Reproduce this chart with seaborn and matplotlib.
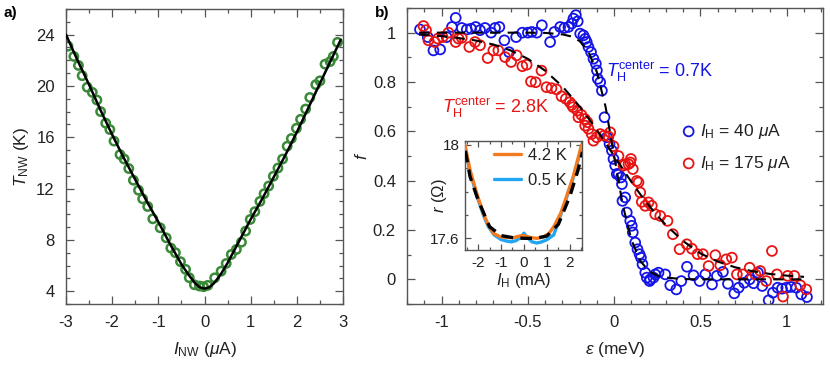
import matplotlib
matplotlib.use("Agg")
import matplotlib.pyplot as plt
from matplotlib.ticker import MultipleLocator
import seaborn as sns

# panel a: nanowire temperature vs current
a_I = [-2.957, -2.83, -2.73, -2.65, -2.54, -2.43, -2.33, -2.25, -2.14, -2.05, -1.96, -1.83,
       -1.74, -1.64, -1.54, -1.43, -1.34, -1.23, -1.12, -0.96, -0.83, -0.73, -0.63, -0.52,
       -0.41, -0.33, -0.22, -0.11, -0.02, 0.07, 0.22, 0.36, 0.47, 0.58, 0.69, 0.80, 0.89,
       0.99, 1.09, 1.20, 1.29, 1.39, 1.49, 1.59, 1.69, 1.79, 1.88, 1.99, 2.08, 2.19, 2.28,
       2.41, 2.50, 2.61, 2.72, 2.79, 2.88]
a_T = [23.1, 22.3, 21.6, 20.8, 19.9, 19.5, 18.9, 18.0, 17.1, 16.6, 15.7, 14.65,
       14.3, 13.56, 12.65, 11.87, 11.2, 10.6, 9.64, 8.94, 8.16, 7.36, 7.0, 6.3,
       5.7, 5.05, 4.5, 4.4, 4.35, 4.45, 5.04, 5.56, 6.16, 6.86, 7.25, 7.82, 8.68,
       9.59, 10.2, 11.0, 11.6, 12.2, 12.96, 13.6, 14.3, 15.3, 15.9, 16.7, 17.4, 18.2, 19.1,
       20.1, 20.4, 21.7, 21.9, 22.3, 23.4]
fit_a_I = [-3, -2.75, -2.5, -2.25, -2, -1.75, -1.5, -1.25, -1, -0.75, -0.5, -0.35, -0.2, -0.1,
           0, 0.1, 0.2, 0.35, 0.5, 0.75, 1, 1.25, 1.5, 1.75, 2, 2.25, 2.5, 2.75, 2.95]
fit_a_T = [24.0, 22.0, 20.1, 18.1, 16.2, 14.4, 12.7, 11.0, 9.4, 7.7, 6.1, 5.3, 4.6, 4.3,
           4.2, 4.3, 4.6, 5.3, 6.2, 7.9, 9.6, 11.2, 12.9, 14.6, 16.4, 18.3, 20.2, 22.1, 23.6]

# panel b: distribution function, I_H = 40 uA (blue)
b_eps = [-1.125, -1.08, -1.047, -1.008, -0.97, -0.94, -0.918, -0.883, -0.854, -0.829, -0.802,
         -0.777, -0.748, -0.713, -0.69, -0.665, -0.636, -0.609, -0.568, -0.532, -0.50, -0.477,
         -0.448, -0.419, -0.371, -0.346, -0.313, -0.288, -0.265, -0.246, -0.236, -0.222, -0.211,
         -0.197, -0.178, -0.168, -0.159, -0.149, -0.134, -0.120, -0.106, -0.100, -0.095, -0.081,
         -0.071, -0.056, -0.042, -0.027, -0.013, -0.004, 0.006, 0.015, 0.025, 0.039, 0.045,
         0.048, 0.064, 0.073, 0.093, 0.102, 0.108, 0.122, 0.135, 0.147, 0.155, 0.164, 0.180,
         0.189, 0.205, 0.209, 0.228, 0.238, 0.257, 0.296, 0.325, 0.36, 0.389, 0.422, 0.46,
         0.495, 0.528, 0.567, 0.595, 0.63, 0.659, 0.696, 0.721, 0.753, 0.785, 0.808, 0.833,
         0.858, 0.895, 0.92, 0.947, 0.972, 0.997, 1.024, 1.055, 1.084, 1.117]
b_f = [1.013, 0.982, 0.928, 0.932, 0.982, 1.023, 1.06, 1.019, 1.013, 1.016, 1.023,
       1.01, 1.019, 1.0, 1.019, 1.023, 0.969, 0.921, 0.982, 1.0, 1.0, 1.003,
       1.0, 1.03, 0.962, 1.003, 1.023, 1.019, 1.023, 1.037, 1.057, 1.071, 1.046,
       0.996, 0.989, 0.975, 0.962, 0.942, 0.921, 0.894, 0.874, 0.847, 0.813, 0.799,
       0.765, 0.657, 0.576, 0.549, 0.522, 0.488, 0.461, 0.427, 0.427, 0.413, 0.386,
       0.318, 0.332, 0.271, 0.237, 0.217, 0.19, 0.149, 0.122, 0.102, 0.088, 0.061, 0.027,
       0.007, -0.007, 0.0, 0.007, 0.02, 0.027, 0.02, -0.024, -0.041, -0.007, 0.051, 0.016,
       -0.007, 0.02, -0.021, 0.014, 0.03, -0.018, -0.057, -0.034, -0.014, 0.0, -0.016, 0.027,
       -0.027, -0.085, -0.054, -0.034, -0.038, -0.034, -0.031, -0.034, -0.061, -0.072]

# I_H = 175 uA (red)
r_eps = [-1.105, -1.09, -1.076, -1.04, -1.021, -0.994, -0.96, -0.918, -0.902, -0.883, -0.839,
         -0.806, -0.777, -0.733, -0.70, -0.671, -0.632, -0.597, -0.565, -0.532, -0.507, -0.482,
         -0.455, -0.421, -0.392, -0.363, -0.334, -0.305, -0.28, -0.257, -0.245, -0.238, -0.213,
         -0.207, -0.19, -0.17, -0.168, -0.155, -0.149, -0.13, -0.12, -0.101, -0.081, -0.058,
         -0.033, -0.023, -0.004, 0.025, 0.054, 0.064, 0.083, 0.093, 0.097, 0.108, 0.131, 0.141,
         0.151, 0.16, 0.18, 0.199, 0.218, 0.238, 0.267, 0.309, 0.34, 0.379, 0.421, 0.45, 0.483,
         0.514, 0.547, 0.586, 0.615, 0.649, 0.682, 0.711, 0.746, 0.785, 0.818, 0.846, 0.881,
         0.914, 0.943, 0.978, 1.005, 1.044, 1.078, 1.113]
r_f = [1.027, 1.01, 0.969, 0.962, 0.976, 0.982, 1.0, 0.962, 0.976, 0.979, 0.942,
       0.962, 0.949, 0.897, 0.928, 0.928, 0.901, 0.881, 0.908, 0.864, 0.87, 0.802,
       0.799, 0.846, 0.779, 0.775, 0.77, 0.742, 0.732, 0.718, 0.707, 0.698, 0.684,
       0.657, 0.667, 0.65, 0.623, 0.637, 0.61, 0.589, 0.562, 0.576, 0.589, 0.583,
       0.579, 0.596, 0.54, 0.5, 0.461, 0.467, 0.467, 0.474, 0.488, 0.447, 0.399, 0.393,
       0.352, 0.314, 0.298, 0.312, 0.298, 0.264, 0.257, 0.237, 0.183, 0.122, 0.142, 0.124, 0.102,
       0.102, 0.054, 0.098, 0.057, 0.081, 0.088, 0.02, 0.02, 0.047, 0.02, 0.034, -0.007,
       0.115, 0.02, -0.07, 0.014, 0.014, -0.024, -0.041]

fit_eps = [-1.13, -1.0, -0.9, -0.8, -0.7, -0.6, -0.5, -0.4, -0.3, -0.25, -0.2, -0.15, -0.1,
           -0.05, 0, 0.05, 0.1, 0.15, 0.2, 0.25, 0.3, 0.4, 0.5, 0.6, 0.7, 0.8, 0.9, 1.0, 1.1]
fit_blue = [1.0, 1.0, 1.0, 1.0, 1.0, 1.0, 1.0, 0.999, 0.993, 0.985, 0.966, 0.924, 0.84,
            0.70, 0.5, 0.30, 0.16, 0.076, 0.034, 0.015, 0.007, 0.001, 0.0, 0.0, 0.0, 0.0, 0.0, 0.0, 0.0]
fit_red = [0.992, 0.986, 0.978, 0.968, 0.952, 0.928, 0.894, 0.846, 0.782, 0.742, 0.70, 0.654, 0.605,
           0.553, 0.5, 0.447, 0.395, 0.346, 0.30, 0.258, 0.22, 0.155, 0.105, 0.072, 0.049, 0.033,
           0.022, 0.015, 0.01]

# inset: r vs I_H
ins_I = [-2.57, -2.35, -2.06, -1.77, -1.55, -1.33, -1.04, -0.75, -0.46, -0.17, 0.0, 0.29,
         0.58, 0.87, 1.09, 1.30, 1.60, 1.86, 2.15, 2.51]
r_42K = [18.0, 17.893, 17.793, 17.707, 17.657, 17.621, 17.607, 17.604, 17.603, 17.61, 17.612,
         17.603, 17.6, 17.607, 17.621, 17.65, 17.707, 17.78, 17.865, 18.0]
ins_I_cold = [-2.57, -2.35, -2.06, -1.77, -1.55, -1.3, -1.0, -0.75, -0.55, -0.35, -0.15, 0.0,
              0.15, 0.35, 0.55, 0.75, 1.0, 1.3, 1.6, 1.86, 2.15, 2.51]
r_05K = [17.99, 17.885, 17.785, 17.7, 17.65, 17.615, 17.595, 17.588, 17.585, 17.59, 17.603, 17.622,
         17.603, 17.585, 17.58, 17.584, 17.594, 17.615, 17.7, 17.775, 17.86, 17.99]
ins_fit_I = [-2.55, -2.35, -2.0, -1.5, -1.0, -0.5, 0.0, 0.5, 1.0, 1.5, 2.0, 2.35, 2.55]
ins_fit_r = [17.975, 17.865, 17.765, 17.65, 17.612, 17.603, 17.6, 17.6, 17.61, 17.66, 17.78,
             17.89, 17.97]

sns.set_style("ticks")
plt.rcParams['font.family'] = ['Liberation Sans', 'DejaVu Sans']
plt.rcParams['mathtext.fontset'] = 'custom'
plt.rcParams['mathtext.rm'] = 'Liberation Sans'
plt.rcParams['mathtext.it'] = 'Liberation Sans:italic'
plt.rcParams['mathtext.bf'] = 'Liberation Sans:bold'
plt.rcParams['axes.unicode_minus'] = False
plt.rcParams['axes.edgecolor'] = '#555555'
plt.rcParams['xtick.color'] = '#555555'
plt.rcParams['ytick.color'] = '#555555'
plt.rcParams['xtick.labelcolor'] = '#222222'
plt.rcParams['ytick.labelcolor'] = '#222222'
plt.rcParams['text.color'] = '#222222'
plt.rcParams['axes.labelcolor'] = '#222222'

GREEN = '#3a8a3a'
BLUE = '#1414e6'
RED = '#e81414'
ORANGE = '#f47a20'
LBLUE = '#22a6f2'


def style_ticks(ax, size=12, pad=8):
    ax.tick_params(which='both', direction='in', top=True, right=True, labelsize=size,
                   width=0.9)
    ax.tick_params(which='major', length=6, pad=pad)
    ax.tick_params(which='minor', length=3)
    for s in ax.spines.values():
        s.set_linewidth(1.0)


fig = plt.figure(figsize=(8.3, 3.7), dpi=100)

# ---- panel a
ax1 = fig.add_axes([0.0795, 0.1784, 0.3338, 0.7973])
sns.lineplot(x=fit_a_I, y=fit_a_T, ax=ax1, color='black', lw=1.8, sort=False, zorder=3)
sns.scatterplot(x=a_I, y=a_T, ax=ax1, marker='o', s=36, facecolor='none',
                edgecolor=GREEN, linewidth=1.8, zorder=2)
ax1.set_xlim(-3, 3)
ax1.set_ylim(3, 26)
ax1.xaxis.set_major_locator(MultipleLocator(1))
ax1.xaxis.set_minor_locator(MultipleLocator(0.5))
ax1.yaxis.set_major_locator(MultipleLocator(4))
ax1.yaxis.set_minor_locator(MultipleLocator(1))
style_ticks(ax1)
ax1.set_xlabel(r'$I_{\rm NW}$ ($\mu$A)', fontsize=12.5, labelpad=7)
ax1.set_ylabel(r'$T_{\rm NW}$ (K)', fontsize=12.5, labelpad=4)
fig.text(0.004, 0.955, 'a)', fontsize=11, fontweight='bold', color='black')

# ---- panel b
ax2 = fig.add_axes([0.4904, 0.1784, 0.5012, 0.8])
sns.scatterplot(x=b_eps, y=b_f, ax=ax2, marker='o', s=50, facecolor='none',
                edgecolor=BLUE, linewidth=1.3, label=r'$I_{\rm H}$ = 40 $\mu$A', zorder=2)
sns.scatterplot(x=r_eps, y=r_f, ax=ax2, marker='o', s=50, facecolor='none',
                edgecolor=RED, linewidth=1.3, label=r'$I_{\rm H}$ = 175 $\mu$A', zorder=2)
sns.lineplot(x=fit_eps, y=fit_blue, ax=ax2, color='black', lw=1.5, sort=False, zorder=3)
sns.lineplot(x=fit_eps, y=fit_red, ax=ax2, color='black', lw=1.5, sort=False, zorder=3)
ax2.lines[0].set_dashes((5, 3.5))
ax2.lines[1].set_dashes((5, 3.5))
ax2.set_xlim(-1.2, 1.21)
ax2.set_ylim(-0.1, 1.1)
ax2.xaxis.set_minor_locator(MultipleLocator(0.1))
ax2.yaxis.set_minor_locator(MultipleLocator(0.1))
ax2.set_xticks([-1, -0.5, 0, 0.5, 1])
ax2.set_xticklabels(['-1', '-0.5', '0', '0.5', '1'])
ax2.set_yticks([0, 0.2, 0.4, 0.6, 0.8, 1.0])
ax2.set_yticklabels(['0', '0.2', '0.4', '0.6', '0.8', '1'])
style_ticks(ax2)
ax2.set_xlabel(r'$\varepsilon$ (meV)', fontsize=12.5, labelpad=7)
ax2.set_ylabel(r'$f$', fontsize=12.5, labelpad=2)
ax2.text(-0.045, 0.84, r'$T_{\rm H}^{\rm center}$ = 0.7K', color=BLUE, fontsize=13,
         va='center', ha='left')
ax2.text(-1.0, 0.695, r'$T_{\rm H}^{\rm center}$ = 2.8K', color=RED, fontsize=13,
         va='center', ha='left')
leg = ax2.legend(loc='upper left', bbox_to_anchor=(0.652, 0.615), frameon=False,
                 fontsize=12.5, handletextpad=0.05, handlelength=1.2, labelspacing=0.75,
                 borderpad=0, borderaxespad=0)
fig.text(0.452, 0.955, 'b)', fontsize=11, fontweight='bold', color='black')

# ---- inset
ax3 = fig.add_axes([0.5602, 0.3243, 0.141, 0.2946])
sns.lineplot(x=ins_I_cold, y=r_05K, ax=ax3, color=LBLUE, lw=2.4, sort=False,
             label='0.5 K', zorder=2)
sns.lineplot(x=ins_I, y=r_42K, ax=ax3, color=ORANGE, lw=2.4, sort=False,
             label='4.2 K', zorder=3)
sns.lineplot(x=ins_fit_I, y=ins_fit_r, ax=ax3, color='black', lw=2.4, sort=False, zorder=4)
ax3.lines[2].set_dashes((3.5, 2.2))
ax3.set_xlim(-2.57, 2.53)
ax3.set_ylim(17.55, 18.017)
ax3.xaxis.set_minor_locator(MultipleLocator(0.5))
ax3.set_yticks([17.6, 18.0])
ax3.set_yticklabels(['17.6', '18'])
ax3.yaxis.set_minor_locator(MultipleLocator(0.1))
ax3.set_xticks([-2, -1, 0, 1, 2])
ax3.set_xticklabels(['-2', '-1', '0', '1', '2'])
style_ticks(ax3, size=11, pad=4)
ax3.tick_params(which='major', length=4)
ax3.tick_params(which='minor', length=2)
ax3.set_xlabel(r'$I_{\rm H}$ (mA)', fontsize=12, labelpad=1)
ax3.set_ylabel(r'$r$ ($\Omega$)', fontsize=12)
ax3.yaxis.set_label_coords(-0.14, 0.5)
h, l = ax3.get_legend_handles_labels()
ax3.legend(h[::-1], l[::-1], loc='upper left', bbox_to_anchor=(0.25, 0.94), frameon=False,
           fontsize=12, handlelength=1.6, handletextpad=0.4, labelspacing=0.6,
           borderpad=0, borderaxespad=0)
ax3.set_facecolor('white')

fig.savefig('out.png', dpi=100)
